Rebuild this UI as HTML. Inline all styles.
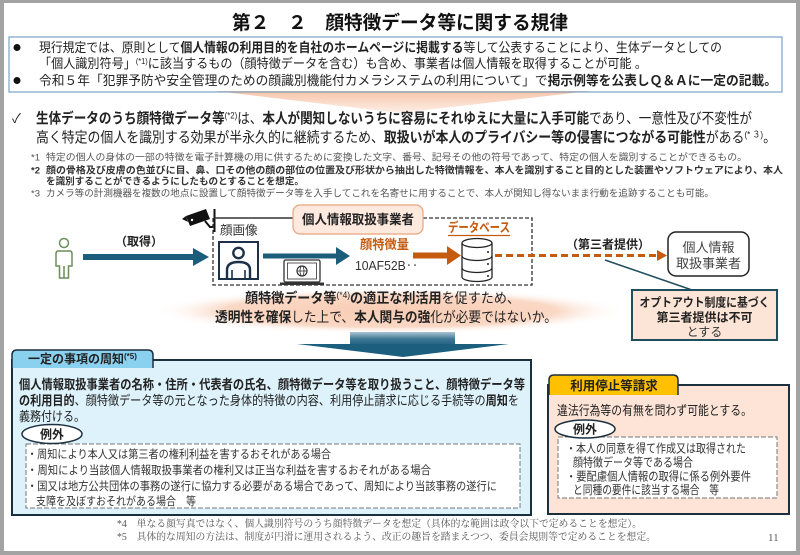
<!DOCTYPE html>
<html><head><meta charset="utf-8">
<style>
html,body{margin:0;padding:0;background:#fff;width:800px;height:555px;overflow:hidden;}
svg{display:block;fill:#222;}
text{font-family:"Liberation Sans","Noto Sans CJK JP",sans-serif;}
.b{font-weight:bold;}
.serif{font-family:"Liberation Serif","Noto Serif CJK SC",serif;}
</style></head><body>
<svg width="800" height="555" viewBox="0 0 800 555" xmlns="http://www.w3.org/2000/svg">
<defs>
<linearGradient id="og" x1="0" y1="0" x2="0" y2="1"><stop offset="0" stop-color="#f7c4a8"/><stop offset="1" stop-color="#fdf0e8"/></linearGradient>
<radialGradient id="eg" cx="0.5" cy="0.5" r="0.5"><stop offset="0" stop-color="#f8ccb3"/><stop offset="0.7" stop-color="#fad8c5"/><stop offset="1" stop-color="#fff" stop-opacity="0"/></radialGradient>
<linearGradient id="sg" x1="0" y1="0" x2="0" y2="1"><stop offset="0" stop-color="#a9c4d3"/><stop offset="0.5" stop-color="#3f7795"/><stop offset="1" stop-color="#1b5e7e"/></linearGradient>
</defs>
<rect width="800" height="555" fill="#fff"/>

<!-- title -->
<text x="400" y="29" font-size="19" class="b" text-anchor="middle" textLength="336" lengthAdjust="spacingAndGlyphs" fill="#111">第２　２　顔特徴データ等に関する規律</text>

<!-- top chevron -->
<polygon points="215,91 590,91 400,113" fill="url(#og)"/>

<!-- top box -->
<rect x="9" y="37" width="773" height="55" fill="none" stroke="#7aa3c7" stroke-width="1.2"/>
<circle cx="17" cy="47.5" r="3.5" fill="#111"/>
<text x="39" y="52" font-size="13" textLength="683" lengthAdjust="spacingAndGlyphs">現行規定では、原則として<tspan class="b">個人情報の利用目的を自社のホームページに掲載する</tspan>等して公表することにより、生体データとしての</text>
<text x="39" y="68" font-size="13" textLength="608" lengthAdjust="spacingAndGlyphs">「個人識別符号」<tspan font-size="8" dy="-4">(*1)</tspan><tspan dy="4">に該当するもの（顔特徴データを含む）も含め、事業者は個人情報を取得することが可能 。</tspan></text>
<circle cx="17" cy="80.5" r="3.5" fill="#111"/>
<text x="39" y="85" font-size="13" textLength="738" lengthAdjust="spacingAndGlyphs">令和５年「犯罪予防や安全管理のための顔識別機能付カメラシステムの利用について」で<tspan class="b">掲示例等を公表しＱ＆Ａに一定の記載。</tspan></text>

<!-- check lines -->
<text x="12" y="123" font-size="13">✓</text>
<text x="36" y="123.5" font-size="14.5" textLength="716" lengthAdjust="spacingAndGlyphs"><tspan class="b">生体データのうち顔特徴データ等</tspan><tspan font-size="9" dy="-5">(*2)</tspan><tspan dy="5">は、</tspan><tspan class="b">本人が関知しないうちに容易にそれゆえに大量に入手可能</tspan>であり、一意性及び不変性が</text>
<text x="36" y="142.5" font-size="14.5" textLength="740" lengthAdjust="spacingAndGlyphs">高く特定の個人を識別する効果が半永久的に継続するため、<tspan class="b">取扱いが本人のプライバシー等の侵害につながる可能性</tspan>がある<tspan font-size="9" dy="-5">(* ３)</tspan><tspan dy="5">。</tspan></text>

<!-- footnotes -->
<text x="31" y="160.5" font-size="9.5" fill="#555">*1</text>
<text x="46" y="160.5" font-size="9.5" fill="#555" textLength="701" lengthAdjust="spacingAndGlyphs">特定の個人の身体の一部の特徴を電子計算機の用に供するために変換した文字、番号、記号その他の符号であって、特定の個人を識別することができるもの。</text>
<text x="31" y="173.5" font-size="9.5" fill="#333" class="b">*2</text>
<text x="46" y="173.5" font-size="9.5" fill="#333" class="b" textLength="737" lengthAdjust="spacingAndGlyphs">顔の骨格及び皮膚の色並びに目、鼻、口その他の顔の部位の位置及び形状から抽出した特徴情報を、本人を識別すること目的とした装置やソフトウェアにより、本人</text>
<text x="46" y="184.5" font-size="9.5" fill="#333" class="b" textLength="258" lengthAdjust="spacingAndGlyphs">を識別することができるようにしたものとすることを想定。</text>
<text x="31" y="196.5" font-size="9.5" fill="#555">*3</text>
<text x="46" y="196.5" font-size="9.5" fill="#555" textLength="668" lengthAdjust="spacingAndGlyphs">カメラ等の計測機器を複数の地点に設置して顔特徴データ等を入手してこれを名寄せに用することで、本人が関知し得ないまま行動を追跡することも可能。</text>

<!-- ellipse band -->
<ellipse cx="390" cy="311" rx="238" ry="23" fill="url(#eg)"/>

<!-- person -->
<g fill="none" stroke="#6b8e5a" stroke-width="1.5">
<circle cx="64" cy="243" r="4.5"/>
<path d="M58,251 L70,251 Q72,251 72,254 L72,266 L68.5,266 L68.5,278 L59.5,278 L59.5,266 L56,266 L56,254 Q56,251 58,251 Z"/>
<path d="M64,266 L64,278"/>
</g>

<!-- arrow 1 -->
<rect x="83" y="254" width="112" height="6" fill="#1c5d7c"/>
<polygon points="193,248 209,257 193,266" fill="#1c5d7c"/>
<text x="139" y="245.5" font-size="12" class="b" text-anchor="middle">（取得）</text>

<!-- camera -->
<polygon points="186,216 206,209 210,219 190,226" fill="#111"/>
<polygon points="186,216 182,219 188,222" fill="#111"/>
<circle cx="192" cy="220" r="1.2" fill="#fff"/>
<path d="M205,221 L210,227 L214,227" stroke="#111" stroke-width="2" fill="none"/>
<line x1="214.5" y1="209" x2="214.5" y2="232" stroke="#111" stroke-width="2"/>

<!-- dashed box -->
<path d="M213,218 L213,285 L532,285 L532,218 L423,218" fill="none" stroke="#333" stroke-width="1.3" stroke-dasharray="4,2"/>
<line x1="214" y1="218" x2="293" y2="218" stroke="#333" stroke-width="1.5"/>
<rect x="293" y="205" width="130" height="29" rx="7" fill="#fde9dd" stroke="#e9a47e" stroke-width="1.2"/>
<text x="358" y="224" font-size="13" class="b" text-anchor="middle" textLength="112" lengthAdjust="spacingAndGlyphs">個人情報取扱事業者</text>

<text x="220" y="234.5" font-size="12.5" fill="#333">顔画像</text>
<rect x="219" y="242" width="39" height="37" fill="#fff" stroke="#1b3049" stroke-width="2"/>
<g fill="none" stroke="#1b3049" stroke-width="2.4">
<circle cx="238.5" cy="253" r="5.2"/>
<path d="M227,278 L227,270 Q227,262 238.5,262 Q250,262 250,270 L250,278"/>
</g>
<line x1="232" y1="270" x2="232" y2="278" stroke="#1b3049" stroke-width="1.6"/>
<line x1="245" y1="270" x2="245" y2="278" stroke="#1b3049" stroke-width="1.6"/>

<!-- arrow 2 -->
<rect x="263" y="253.5" width="76" height="5" fill="#1c5d7c"/>
<polygon points="336,247 350,256 336,265" fill="#1c5d7c"/>

<!-- laptop -->
<rect x="284" y="260" width="36" height="22" rx="1.5" fill="#fff" stroke="#333" stroke-width="1.3"/>
<rect x="287.5" y="263" width="29" height="16" fill="none" stroke="#333" stroke-width="0.8"/>
<circle cx="302" cy="271" r="5" fill="none" stroke="#333" stroke-width="1.2"/>
<ellipse cx="302" cy="271" rx="2" ry="5" fill="none" stroke="#333" stroke-width="0.8"/>
<line x1="297" y1="271" x2="307" y2="271" stroke="#333" stroke-width="0.8"/>
<rect x="280" y="282.5" width="44" height="2.5" fill="#333"/>

<text x="360" y="249" font-size="13" class="b" fill="#c55a11" textLength="49" lengthAdjust="spacingAndGlyphs">顔特徴量</text>
<text x="355" y="270" font-size="13" fill="#333" textLength="63" lengthAdjust="spacingAndGlyphs">10AF52B‥</text>

<!-- orange arrow -->
<rect x="413" y="252.5" width="36" height="6" fill="#c55a11"/>
<polygon points="447,246 461,255.5 447,265" fill="#c55a11"/>
<text x="448" y="232" font-size="13" class="b" fill="#c55a11" textLength="62" lengthAdjust="spacingAndGlyphs">データベース</text>
<line x1="448" y1="235.5" x2="510" y2="235.5" stroke="#c55a11" stroke-width="1.2"/>

<!-- DB -->
<g fill="#fff" stroke="#222" stroke-width="1.3">
<path d="M462,243 L462,277 A15,4.5 0 0 0 492,277 L492,243"/>
<ellipse cx="477" cy="243" rx="15" ry="4.5"/>
<path d="M462,256 A15,4.5 0 0 0 492,256" fill="none"/>
<path d="M462,268 A15,4.5 0 0 0 492,268" fill="none"/>
</g>
<circle cx="488" cy="252" r="1" fill="#222"/>
<circle cx="488" cy="264" r="1" fill="#222"/>
<circle cx="488" cy="276" r="1" fill="#222"/>

<!-- dashed orange arrow -->
<line x1="495" y1="255.5" x2="658" y2="255.5" stroke="#c55a11" stroke-width="3" stroke-dasharray="7,4"/>
<polygon points="657,250 667,255.5 657,261" fill="#c55a11"/>
<text x="608" y="248.5" font-size="12" class="b" text-anchor="middle">（第三者提供）</text>

<rect x="668" y="232" width="81" height="44" rx="8" fill="#fff" stroke="#222" stroke-width="1.5"/>
<text x="708.5" y="252" font-size="13" fill="#444" text-anchor="middle">個人情報</text>
<text x="708.5" y="268" font-size="13" fill="#444" text-anchor="middle">取扱事業者</text>

<line x1="605" y1="260" x2="692" y2="290" stroke="#1f4e5f" stroke-width="1.5"/>
<rect x="632" y="290" width="145" height="50" fill="#fce4d6" stroke="#1f4e5f" stroke-width="2"/>
<text x="704.5" y="306.5" font-size="12" class="b" text-anchor="middle" textLength="130" lengthAdjust="spacingAndGlyphs">オプトアウト制度に基づく</text>
<text x="704.5" y="321.5" font-size="12" class="b" text-anchor="middle">第三者提供は不可</text>
<text x="704.5" y="336" font-size="12" fill="#333" text-anchor="middle">とする</text>

<!-- band text -->
<text x="245" y="303" font-size="14" textLength="275" lengthAdjust="spacingAndGlyphs"><tspan class="b">顔特徴データ等</tspan><tspan font-size="9" dy="-5">(*4)</tspan><tspan dy="5" class="b">の適正な利活用</tspan>を促すため、</text>
<text x="215" y="322" font-size="14" textLength="342" lengthAdjust="spacingAndGlyphs"><tspan class="b">透明性を確保</tspan>した上で、<tspan class="b">本人関与の強</tspan>化が必要ではないか。</text>

<!-- down arrow -->
<rect x="350" y="332" width="105" height="14" fill="url(#sg)"/>
<polygon points="297,344 509,344 403,357" fill="#1b5e7e"/>

<!-- left box -->
<rect x="12" y="360" width="519" height="155" fill="#ddf2fb" stroke="#1c2f3f" stroke-width="2"/>
<path d="M12,368 L12,355 Q12,350 17,350 L148,350 Q153,350 153,355 L153,368" fill="#8ad0ef" stroke="#1c2f3f" stroke-width="1.5"/>
<text x="28" y="363" font-size="12" class="b">一定の事項の周知<tspan font-size="8" dy="-4" class="b">(*5)</tspan></text>

<text x="19" y="389" font-size="13" class="b" textLength="506" lengthAdjust="spacingAndGlyphs">個人情報取扱事業者の名称・住所・代表者の氏名、顔特徴データ等を取り扱うこと、顔特徴データ等</text>
<text x="19" y="405" font-size="13" textLength="500" lengthAdjust="spacingAndGlyphs"><tspan class="b">の利用目的</tspan>、顔特徴データ等の元となった身体的特徴の内容、利用停止請求に応じる手続等の<tspan class="b">周知</tspan>を</text>
<text x="19" y="421" font-size="13" textLength="66" lengthAdjust="spacingAndGlyphs">義務付ける。</text>

<rect x="26" y="444" width="494" height="64" fill="#fff" stroke="#777" stroke-width="1" stroke-dasharray="5,2"/>
<ellipse cx="52" cy="434" rx="30" ry="9.5" fill="#fff" stroke="#1c2f3f" stroke-width="1.5"/>
<text x="52" y="438.5" font-size="12" class="b" text-anchor="middle">例外</text>
<text x="27" y="458" font-size="11.5" fill="#333" textLength="304" lengthAdjust="spacingAndGlyphs">・周知により本人又は第三者の権利利益を害するおそれがある場合</text>
<text x="27" y="474" font-size="11.5" fill="#333" textLength="404" lengthAdjust="spacingAndGlyphs">・周知により当該個人情報取扱事業者の権利又は正当な利益を害するおそれがある場合</text>
<text x="27" y="490" font-size="11.5" fill="#333" textLength="470" lengthAdjust="spacingAndGlyphs">・国又は地方公共団体の事務の遂行に協力する必要がある場合であって、周知により当該事務の遂行に</text>
<text x="36" y="505" font-size="11.5" fill="#333" textLength="160" lengthAdjust="spacingAndGlyphs">支障を及ぼすおそれがある場合　等</text>

<!-- right box -->
<rect x="548" y="385" width="241" height="129" fill="#fde4d6" stroke="#1c2f3f" stroke-width="2"/>
<path d="M549,395 L549,380 Q549,375 554,375 L673,375 Q678,375 678,380 L678,395" fill="#ffc000" stroke="#1c2f3f" stroke-width="1.5"/>
<text x="614" y="390" font-size="12.5" class="b" text-anchor="middle">利用停止等請求</text>
<text x="557" y="415" font-size="13" textLength="195" lengthAdjust="spacingAndGlyphs">違法行為等の有無を問わず可能とする。</text>
<rect x="558" y="437" width="219" height="61" fill="#fff" stroke="#777" stroke-width="1" stroke-dasharray="5,2"/>
<ellipse cx="585" cy="429" rx="30" ry="9" fill="#fff" stroke="#1c2f3f" stroke-width="1.5"/>
<text x="585" y="433.5" font-size="12" class="b" text-anchor="middle">例外</text>
<text x="566" y="452.5" font-size="12" fill="#333" textLength="180" lengthAdjust="spacingAndGlyphs">・本人の同意を得て作成又は取得された</text>
<text x="573" y="466.5" font-size="12" fill="#333" textLength="120" lengthAdjust="spacingAndGlyphs">顔特徴データ等である場合</text>
<text x="566" y="480.5" font-size="12" fill="#333" textLength="185" lengthAdjust="spacingAndGlyphs">・要配慮個人情報の取得に係る例外要件</text>
<text x="573" y="494" font-size="12" fill="#333" textLength="146" lengthAdjust="spacingAndGlyphs">と同種の要件に該当する場合　等</text>

<!-- bottom footnotes -->
<text x="117" y="527" font-size="10" class="serif" fill="#555" textLength="525" lengthAdjust="spacingAndGlyphs">*4　単なる顔写真ではなく、個人識別符号のうち顔特徴データを想定（具体的な範囲は政令以下で定めることを想定）。</text>
<text x="117" y="540" font-size="10" class="serif" fill="#555" textLength="539" lengthAdjust="spacingAndGlyphs">*5　具体的な周知の方法は、制度が円滑に運用されるよう、改正の趣旨を踏まえつつ、委員会規則等で定めることを想定。</text>
<text x="768" y="541" font-size="11" class="serif" fill="#555">11</text>

<!-- frame -->
<rect x="0" y="0" width="800" height="3" fill="#a3a3a3"/>
<rect x="0" y="0" width="4" height="555" fill="#a3a3a3"/>
<rect x="796" y="0" width="4" height="555" fill="#a3a3a3"/>
<rect x="0" y="551" width="800" height="4" fill="#a3a3a3"/>
</svg>
</body></html>
